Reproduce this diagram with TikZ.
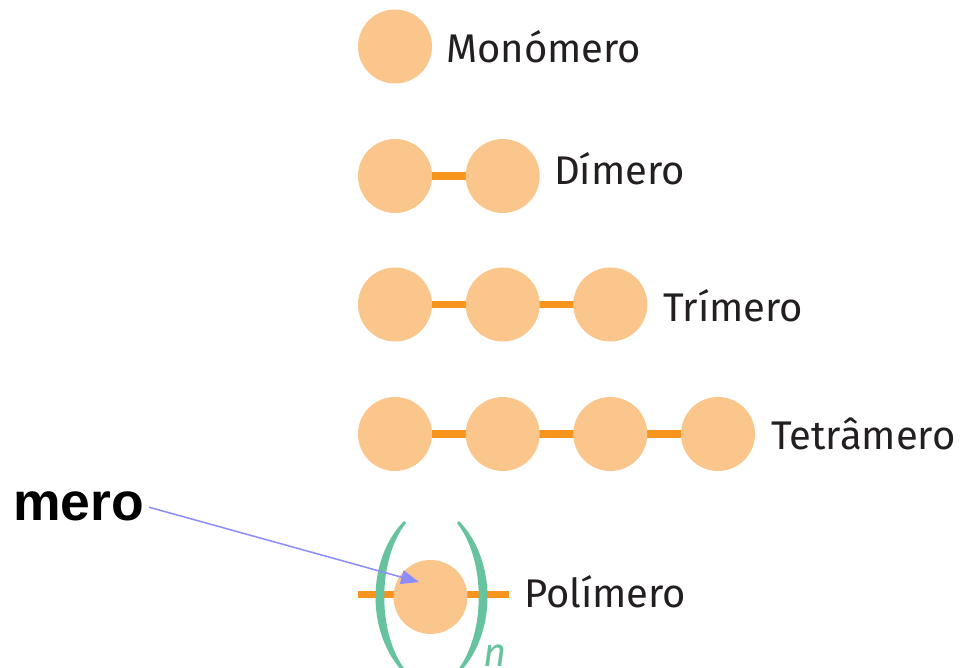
\documentclass[tikz,border=0pt]{standalone}
\usepackage{fontspec}
\setmainfont{Fira Sans}
\newfontfamily\arialb{Liberation Sans}
\usetikzlibrary{arrows.meta}
\definecolor{peach}{HTML}{FBC68B}
\definecolor{bondorange}{HTML}{F7941D}
\definecolor{parengreen}{HTML}{67C39D}
\definecolor{txtdark}{HTML}{231F20}
\definecolor{arrowblue}{HTML}{8C8CFF}
\tikzset{
  unit/.style={circle, fill=peach, draw=none, minimum size=74pt, inner sep=0pt},
  bond/.style={draw=bondorange, line width=7.5pt},
  lbl/.style={anchor=base west, inner sep=0pt, text=txtdark, font=\fontsize{40}{40}\selectfont},
  pointer/.style={draw=arrowblue, line width=1.5pt, -{Triangle[length=18pt,width=14pt]}, shorten <=5pt},
}
\begin{document}
\begin{tikzpicture}[x=1pt,y=-1pt]
\useasboundingbox (0,0) rectangle (961,668);
\fill[white] (0,0) rectangle (961,668);
% Monomer
\node[unit] (m1) at (395,46.5) {};
\node[lbl] (tm) at (446,63) {Monómero};
% Dimer
\draw[bond] (395,176) coordinate (d1c) -- (502.7,176) coordinate (d2c);
\node[unit] (d1) at (d1c) {};
\node[unit] (d2) at (d2c) {};
\node[lbl] (td) at (554,185) {Dímero};
% Trimer
\draw[bond] (395,304.5) coordinate (t1c) -- (502.7,304.5) coordinate (t2c) -- (610.3,304.5) coordinate (t3c);
\node[unit] (t1) at (t1c) {};
\node[unit] (t2) at (t2c) {};
\node[unit] (t3) at (t3c) {};
\node[lbl] (tt) at (663,321) {Trímero};
% Tetramer
\draw[bond] (395,434) coordinate (q1c) -- (502.7,434) coordinate (q2c) -- (610.3,434) coordinate (q3c) -- (718,434) coordinate (q4c);
\node[unit] (q1) at (q1c) {};
\node[unit] (q2) at (q2c) {};
\node[unit] (q3) at (q3c) {};
\node[unit] (q4) at (q4c) {};
\node[lbl] (tq) at (771,449) {Tetrâmero};
% Polymer
\coordinate (pl) at (358,594.5);
\coordinate (pr) at (509,594.5);
\draw[draw=bondorange, line width=7pt] (pl) -- (pr);
\node[unit] (p) at (430.5,597) {};
\begin{scope}
\clip (0,0) rectangle (961,668);
\fill[parengreen] (404,521) .. controls (366,560) and (366,634) .. (404,673)
   -- (406,671) .. controls (377,634) and (377,560) .. (406,523) -- cycle;
\fill[parengreen] (459,521) .. controls (497,560) and (497,634) .. (459,673)
   -- (457,671) .. controls (486,634) and (486,560) .. (457,523) -- cycle;
\end{scope}
\node[anchor=base, inner sep=0pt, text=parengreen, font=\fontsize{40}{40}\selectfont\itshape] (n) at (495,666) {n};
\node[lbl] (tp) at (524,607) {Polímero};
% mero label and arrow
\node[anchor=base west, inner sep=0pt, font=\arialb\bfseries\fontsize{53.5}{53.5}\selectfont] (mero) at (13,520) {mero};
\coordinate (tip) at (419,582);
\draw[pointer] (mero.east) -- (tip);
\end{tikzpicture}
\end{document}
